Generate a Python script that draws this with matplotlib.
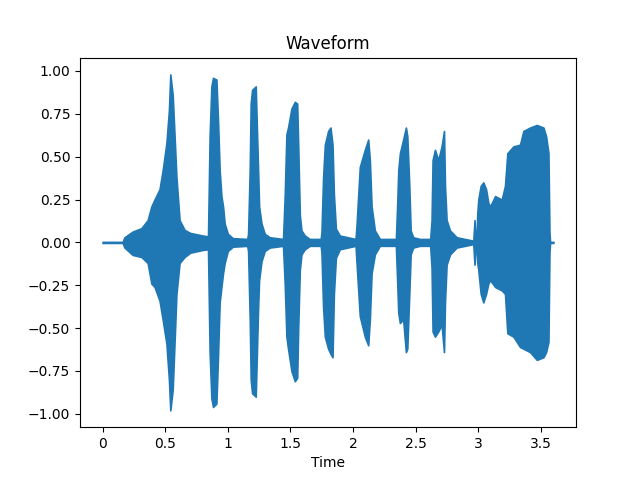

import numpy as np
import matplotlib
matplotlib.use('Agg')
import matplotlib.pyplot as plt
from matplotlib.ticker import FuncFormatter

# time (s) of the envelope points
time = [0.0, 0.16, 0.175, 0.24, 0.31, 0.36, 0.39, 0.415, 0.455, 0.48, 0.51, 0.53, 0.541, 0.56,
        0.59, 0.615, 0.655, 0.70, 0.80, 0.842,
        0.855, 0.869, 0.882, 0.909, 0.922, 0.935, 0.949, 0.962, 0.975, 1.0, 1.04,
        1.155, 1.162, 1.175, 1.183, 1.194, 1.223, 1.234, 1.242, 1.25, 1.269, 1.295, 1.335,
        1.441, 1.455, 1.468, 1.481, 1.508, 1.535, 1.554, 1.562, 1.575, 1.588, 1.615, 1.655,
        1.742, 1.748, 1.761, 1.775, 1.801, 1.82, 1.836, 1.847, 1.863, 1.894,
        2.02, 2.028, 2.054, 2.094, 2.121, 2.134, 2.148, 2.174, 2.214,
        2.342, 2.353, 2.361, 2.374, 2.4, 2.422, 2.433, 2.449, 2.46, 2.48, 2.534,
        2.616, 2.627, 2.635, 2.654, 2.68, 2.707, 2.726, 2.734, 2.747, 2.774, 2.827,
        2.96, 2.97, 2.978, 2.987, 2.992, 3.0, 3.019, 3.04, 3.062, 3.08,
        3.094, 3.134, 3.187, 3.213, 3.232, 3.28, 3.333, 3.36, 3.413, 3.467, 3.52, 3.541, 3.56,
        3.568, 3.573, 3.60]

# upper envelope of the waveform
upper = [0.003, 0.003, 0.03, 0.063, 0.083, 0.13, 0.21, 0.25, 0.31, 0.42, 0.58, 0.77, 0.98, 0.86,
         0.38, 0.13, 0.073, 0.055, 0.04, 0.035,
         0.62, 0.91, 0.96, 0.95, 0.71, 0.42, 0.27, 0.21, 0.11, 0.05, 0.025,
         0.02, 0.05, 0.42, 0.81, 0.89, 0.91, 0.62, 0.42, 0.21, 0.11, 0.05, 0.03,
         0.02, 0.28, 0.63, 0.67, 0.78, 0.82, 0.81, 0.57, 0.16, 0.07, 0.04, 0.02,
         0.02, 0.06, 0.38, 0.57, 0.65, 0.67, 0.57, 0.28, 0.08, 0.04,
         0.02, 0.10, 0.44, 0.54, 0.60, 0.48, 0.21, 0.07, 0.02,
         0.02, 0.23, 0.42, 0.52, 0.60, 0.67, 0.62, 0.33, 0.07, 0.03, 0.02,
         0.02, 0.13, 0.48, 0.54, 0.48, 0.56, 0.65, 0.33, 0.13, 0.07, 0.03,
         0.01, 0.13, 0.01, 0.05, 0.17, 0.25, 0.33, 0.35, 0.31, 0.23,
         0.21, 0.27, 0.25, 0.33, 0.52, 0.56, 0.57, 0.65, 0.67, 0.685, 0.67, 0.62, 0.52,
         0.06, 0.003, 0.003]

# lower envelope of the waveform
lower = [-0.003, -0.003, -0.03, -0.073, -0.085, -0.12, -0.24, -0.26, -0.34, -0.45, -0.59, -0.80, -0.98, -0.86,
         -0.30, -0.12, -0.085, -0.06, -0.044, -0.04,
         -0.64, -0.91, -0.96, -0.94, -0.66, -0.35, -0.26, -0.18, -0.12, -0.05, -0.025,
         -0.02, -0.05, -0.44, -0.80, -0.88, -0.90, -0.60, -0.38, -0.22, -0.11, -0.05, -0.03,
         -0.02, -0.25, -0.55, -0.62, -0.75, -0.81, -0.79, -0.50, -0.16, -0.07, -0.04, -0.02,
         -0.02, -0.06, -0.38, -0.55, -0.62, -0.65, -0.67, -0.30, -0.09, -0.04,
         -0.02, -0.12, -0.43, -0.55, -0.60, -0.45, -0.18, -0.07, -0.02,
         -0.02, -0.24, -0.41, -0.47, -0.45, -0.64, -0.62, -0.30, -0.07, -0.03, -0.02,
         -0.02, -0.15, -0.52, -0.55, -0.52, -0.48, -0.64, -0.35, -0.13, -0.07, -0.03,
         -0.01, -0.13, -0.01, -0.05, -0.12, -0.16, -0.30, -0.35, -0.30, -0.24,
         -0.22, -0.26, -0.28, -0.30, -0.53, -0.55, -0.61, -0.62, -0.64, -0.685, -0.67, -0.64, -0.58,
         -0.06, -0.003, -0.003]

color = '#1f77b4'

fig, ax = plt.subplots(figsize=(6.4, 4.8), dpi=100)
ax.fill_between(time, lower, upper, color=color, edgecolor=color, linewidth=1.2)   # waveform envelope

ax.set_title('Waveform')
ax.set_xlabel('Time')
ax.xaxis.set_major_formatter(FuncFormatter(lambda v, pos: '%g' % v))

fig.savefig('out.png')
